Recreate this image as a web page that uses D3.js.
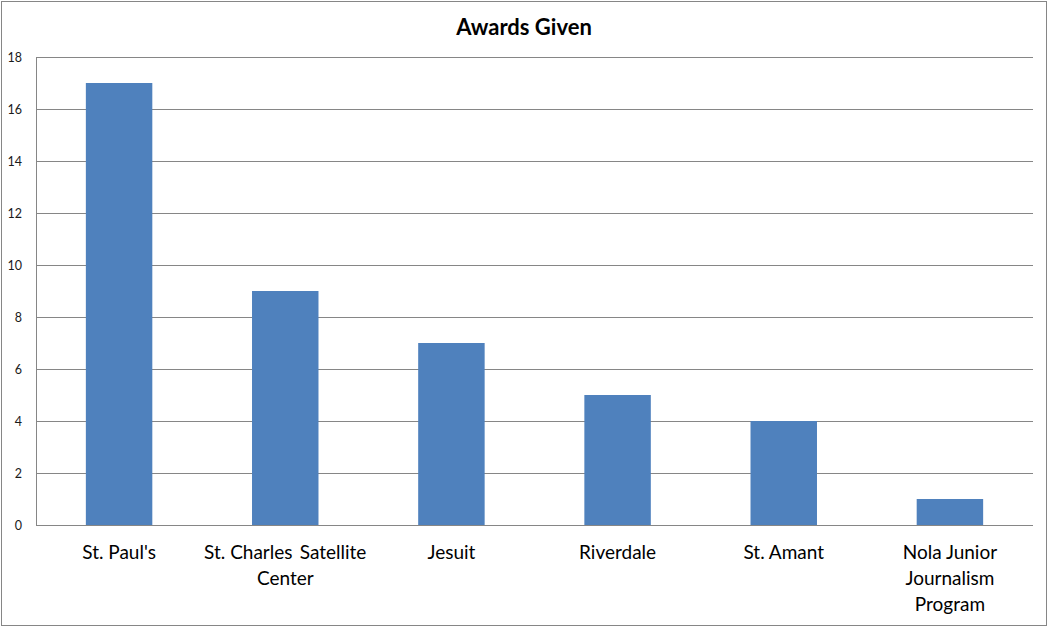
<!DOCTYPE html>
<html><head><meta charset="utf-8">
<script src="https://cdnjs.cloudflare.com/ajax/libs/d3/7.8.5/d3.min.js"></script>
<style>html,body{margin:0;padding:0;background:#fff;}</style>
</head><body>
<svg id="c" width="1049" height="628"></svg>
<script>
const categories = [["St. Paul's"], ["St. Charles \u2009Satellite", "Center"], ["Jesuit"], ["Riverdale"], ["St. Amant"], ["Nola Junior", "Journalism", "Program"]];
const values = [17, 9, 7, 5, 4, 1];
const yTicks = [0, 2, 4, 6, 8, 10, 12, 14, 16, 18];
const title = "Awards Given";

const svg = d3.select("#c");
const font = "Lato, 'Open Sans', sans-serif";
svg.append("rect").attr("x", 1.5).attr("y", 1.5).attr("width", 1045).attr("height", 624)
  .attr("fill", "#fff").attr("stroke", "#868686").attr("stroke-width", 1);

const pLeft = 36, pRight = 1033, pTop = 57, pBottom = 525;
const x = d3.scaleBand().domain(d3.range(values.length)).range([pLeft, pRight]).paddingInner(0.6).paddingOuter(0.3);
const y = d3.scaleLinear().domain([0, 18]).range([pBottom, pTop]);

// gridlines
svg.append("g").selectAll("line").data(yTicks).join("line")
  .attr("x1", pLeft).attr("x2", pRight)
  .attr("y1", d => Math.round(y(d)) + 0.5).attr("y2", d => Math.round(y(d)) + 0.5)
  .attr("stroke", "#868686").attr("stroke-width", 1);
// y axis line
svg.append("line").attr("x1", pLeft + 0.5).attr("x2", pLeft + 0.5).attr("y1", pTop).attr("y2", pBottom + 0.5)
  .attr("stroke", "#868686");

svg.append("g").selectAll("rect").data(values).join("rect")
  .attr("x", (d, i) => x(i)).attr("width", x.bandwidth())
  .attr("y", d => y(d)).attr("height", d => y(0) - y(d))
  .attr("fill", "#4F81BD");

// y tick labels
svg.append("g").selectAll("text").data(yTicks).join("text")
  .attr("x", 22).attr("y", d => y(d) + 2).attr("text-anchor", "end")
  .attr("dominant-baseline", "middle")
  .attr("font-family", font).attr("font-size", 12.5).attr("fill", "#1a1a1a")
  .text(d => d);

// category labels
const cg = svg.append("g");
categories.forEach((lines, i) => {
  const cx = x(i) + x.bandwidth() / 2;
  lines.forEach((ln, j) => {
    cg.append("text").attr("x", cx).attr("y", 554 + j * 26)
      .attr("text-anchor", "middle").attr("dominant-baseline", "middle")
      .attr("font-family", font).attr("font-size", 19).attr("fill", "#000")
      .style("white-space", "pre")
      .text(ln);
  });
});

svg.append("text").attr("x", 524).attr("y", 29).attr("text-anchor", "middle")
  .attr("dominant-baseline", "middle").attr("font-family", font)
  .attr("font-weight", "bold").attr("font-size", 22).attr("fill", "#000").text(title);
</script>
</body></html>
